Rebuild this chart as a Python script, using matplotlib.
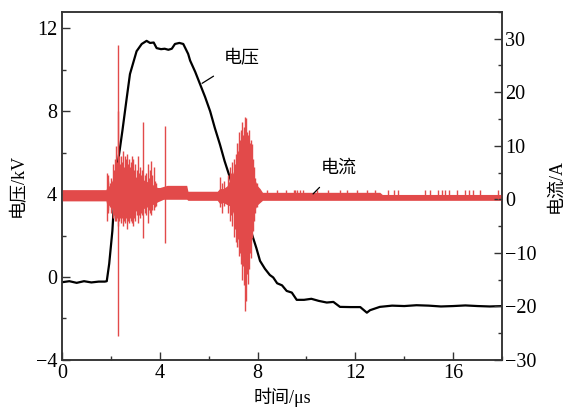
import numpy as np
import matplotlib.pyplot as plt
from matplotlib.ticker import MultipleLocator

# --- 电压 (kV) 读数 ---
v_t = [0, 0.3, 0.6, 0.9, 1.2, 1.5, 1.75, 1.83, 1.93, 2.06, 2.14, 2.28, 2.47, 2.65, 2.78,
       3.05, 3.26, 3.46, 3.6, 3.75, 3.87, 4.05, 4.2, 4.35, 4.49, 4.62, 4.8, 4.96, 5.16,
       5.24, 5.45, 5.65, 5.85, 6.06, 6.25, 6.46, 6.65, 6.87, 7.05, 7.28, 7.5, 7.76, 7.95,
       8.1, 8.3, 8.5, 8.64, 8.8, 9.0, 9.19, 9.4, 9.6, 9.9, 10.2, 10.5, 10.83, 11.1, 11.37,
       11.8, 12.2, 12.47, 12.6, 13.0, 13.5, 14.0, 14.5, 15.0, 15.5, 16.0, 16.5, 17.0, 17.5, 18.0]
v_kv = [-0.25, -0.2, -0.28, -0.2, -0.26, -0.22, -0.22, -0.2, 0.64, 2.23, 3.84, 5.47, 7.06,
        8.67, 9.8, 10.9, 11.25, 11.4, 11.3, 11.32, 11.05, 11.0, 11.02, 10.97, 11.02, 11.25,
        11.3, 11.25, 10.77, 10.45, 9.9, 9.3, 8.7, 8.0, 7.2, 6.4, 5.6, 4.8, 4.1, 3.5, 2.9,
        2.1, 1.4, 0.78, 0.4, 0.1, -0.02, -0.3, -0.4, -0.67, -0.75, -1.1, -1.1, -1.05, -1.15,
        -1.23, -1.2, -1.44, -1.45, -1.45, -1.72, -1.6, -1.44, -1.38, -1.4, -1.36, -1.38,
        -1.42, -1.4, -1.37, -1.4, -1.42, -1.4]

# --- 电流 (A) 包络读数 ---
i_t = [0, 1.8, 1.85, 1.95, 2.05, 2.15, 2.25, 2.4, 2.6, 2.8, 3.0, 3.2, 3.4, 3.6, 3.8,
       3.9, 4.0, 4.15, 4.3, 5.1, 5.15, 6.35, 6.45, 6.6, 6.75, 6.85, 7.0, 7.12, 7.3, 7.45,
       7.55, 7.65, 7.76, 7.9, 8.0, 8.1, 8.2, 13.0, 13.1, 18.0]
i_hi = [1.8, 1.8, 2.5, 2.5, 3.5, 4.5, 5.0, 5.0, 5.0, 4.5, 4.2, 3.8, 3.5, 3.0, 2.5,
        2.2, 2.2, 2.4, 2.6, 2.6, 1.5, 1.5, 2.0, 2.0, 2.5, 3.5, 5.0, 6.5, 7.5, 8.5,
        8.5, 7.5, 6.0, 3.5, 2.5, 2.0, 1.3, 1.3, 0.9, 0.9]
i_lo = [-0.3, -0.3, -1.5, -1.0, -1.8, -2.5, -2.8, -2.8, -2.6, -2.4, -2.2, -2.0, -1.6,
        -1.2, -0.8, -0.5, -0.3, 0.0, 0.0, 0.0, -0.2, -0.2, -0.8, -0.6, -1.0, -1.2,
        -2.5, -4.5, -6.5, -8.0, -7.5, -6.0, -4.0, -1.8, -1.0, -0.6, -0.2, -0.2,
        -0.2, -0.2]

# --- 电流尖峰 ---
spk_t = [1.83, 1.87, 1.9, 1.97, 2.02, 2.08, 2.12, 2.16, 2.2, 2.24, 2.27, 2.30, 2.34,
         2.38, 2.42, 2.46, 2.5, 2.54, 2.58, 2.62, 2.65, 2.7, 2.74, 2.78, 2.82, 2.86,
         2.9, 2.95, 3.0, 3.05, 3.1, 3.15, 3.2, 3.25, 3.29, 3.33, 3.38, 3.43, 3.5, 3.55,
         3.6, 3.65, 3.7, 3.75, 3.8, 3.86, 4.21,
         6.45, 6.55, 6.62, 6.8, 6.86, 6.92, 6.97, 7.02, 7.06, 7.1, 7.14, 7.18, 7.22,
         7.26, 7.3, 7.34, 7.38, 7.42, 7.46, 7.49, 7.53, 7.57, 7.6, 7.64, 7.68, 7.72,
         7.76, 7.8, 7.85, 7.9, 7.96,
         8.37, 8.78, 9.17, 9.47, 9.55, 9.62, 9.75, 9.87, 10.42, 10.89, 11.37, 11.65,
         12.06, 12.47, 12.8, 13.35, 13.56, 13.75, 14.85, 15.06, 15.4, 15.54, 15.67,
         15.81, 16.15, 16.49, 16.63, 16.83, 17.1, 17.85]
spk_hi = [5.0, 3.5, 4.5, 3.0, 4.0, 6.5, 5.5, 7.5, 10.0, 7.0, 16.5, 28.9, 8.0,
          6.5, 8.0, 7.0, 9.0, 6.0, 8.0, 7.5, 8.5, 6.5, 7.5, 6.0, 7.0, 8.0,
          7.5, 5.5, 6.5, 5.5, 8.0, 5.0, 6.0, 4.5, 5.5, 14.4, 4.5, 5.0, 6.5, 4.0,
          5.5, 7.2, 4.5, 6.0, 3.5, 3.0, 13.7,
          4.1, 3.0, 3.5, 4.5, 6.0, 5.0, 7.0, 7.5, 6.5, 8.5, 10.5, 9.0, 10.5,
          12.5, 11.0, 13.0, 14.4, 12.0, 13.5, 15.3, 15.2, 12.5, 12.0, 13.0, 10.5, 11.0,
          10.4, 7.5, 6.0, 4.0, 3.0,
          1.8, 1.8, 1.8, 1.8, 1.8, 1.8, 1.8, 1.8, 1.8, 1.8, 1.8, 1.8,
          1.8, 1.8, 1.8, 1.8, 1.8, 1.8, 1.8, 1.8, 1.8, 1.8, 1.8,
          1.8, 1.8, 1.8, 1.8, 1.8, 1.8, 1.8]
spk_lo = [-4.0, -2.0, -2.5, -1.5, -2.5, -3.5, -3.0, -4.0, -4.0, -3.5, -5.0, -25.5, -4.0,
          -3.5, -4.5, -3.5, -5.0, -4.0, -4.5, -3.5, -5.5, -4.0, -4.5, -3.5, -4.0, -4.5,
          -5.0, -3.5, -4.0, -3.0, -4.5, -3.0, -3.5, -2.5, -3.0, -7.2, -2.5, -3.0, -4.5,
          -2.0, -2.5, -3.0, -2.0, -2.0, -1.5, -1.2, -8.1,
          -1.5, -2.5, -1.2, -2.5, -4.0, -3.0, -5.0, -7.0, -5.5, -8.0, -9.0, -7.5, -10.5,
          -9.0, -10.0, -12.0, -15.0, -12.5, -16.0, -20.8, -19.0, -14.0, -15.8, -13.0,
          -10.0, -11.0, -7.2, -6.0, -4.0, -2.5, -1.5] + [0.0] * 30

red = '#e24a4a'

fig = plt.figure(figsize=(5.7, 4.09), dpi=100)
ax = fig.add_axes([0.1088, 0.12, 0.772, 0.851])
ax2 = ax.twinx()

ax.plot(v_t, v_kv, color='black', lw=1.6, zorder=2)

ax2.fill_between(i_t, i_lo, i_hi, color=red, lw=0)
ax2.vlines(spk_t, spk_lo, spk_hi, color=red, lw=1.0)

ax.set_xlim(0, 18)
ax.set_ylim(-4, 12.8)
ax2.set_ylim(-30, 35)

ax.xaxis.set_major_locator(MultipleLocator(4))
ax.xaxis.set_minor_locator(MultipleLocator(2))
ax.yaxis.set_major_locator(MultipleLocator(4))
ax.yaxis.set_minor_locator(MultipleLocator(2))
ax2.yaxis.set_major_locator(MultipleLocator(10))
ax2.yaxis.set_minor_locator(MultipleLocator(5))
ax2.set_yticks([-30, -20, -10, 0, 10, 20, 30])

num_font = 'Liberation Serif'
for a in (ax, ax2):
    a.tick_params(which='major', direction='in', length=6, width=1, labelsize=14.5,
                  color='#333333')
    a.tick_params(which='minor', direction='in', length=3, width=1, color='#333333')
    for lab in a.get_xticklabels() + a.get_yticklabels():
        lab.set_fontfamily(num_font)
    for s in a.spines.values():
        s.set_color('#333333')
        s.set_linewidth(1.1)
ax.tick_params(axis='x', pad=3)
ax2.tick_params(axis='y', pad=2)

lab_fam = ['Liberation Serif', 'Noto Sans CJK SC']
ax.set_xlabel('时间/μs', fontsize=13, family=lab_fam, labelpad=3)
ax.set_ylabel('电压/kV', fontsize=13, family=lab_fam, labelpad=6)
ax2.set_ylabel('电流/A', fontsize=13, family=lab_fam, labelpad=8)

# --- 标注 ---
ax.annotate('电压', xy=(5.73, 9.35), xytext=(7.35, 10.55), fontsize=13,
            family='Noto Sans CJK SC', ha='center', va='center',
            arrowprops=dict(arrowstyle='-', color='black', lw=0.9, shrinkA=8, shrinkB=0))
ax2.annotate('电流', xy=(10.27, 1.0), xytext=(11.33, 5.9), fontsize=13,
             family='Noto Sans CJK SC', ha='center', va='center',
             arrowprops=dict(arrowstyle='-', color='black', lw=0.9, shrinkA=8, shrinkB=0))

fig.savefig('out.png', dpi=100)
